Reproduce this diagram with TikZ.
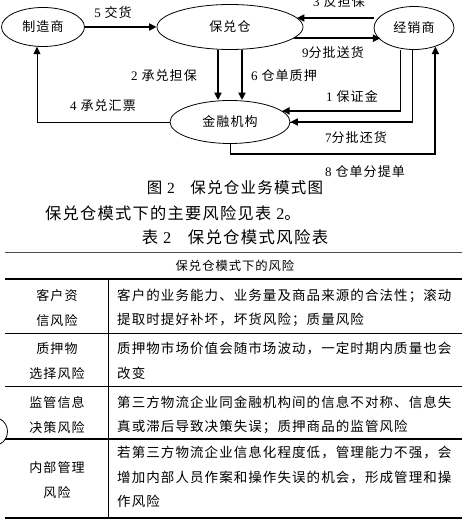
\documentclass[tikz,border=0pt]{standalone}
\usepackage{fontspec}
\setmainfont{Noto Sans CJK SC}[LetterSpace=8]
\newfontfamily\num{Liberation Serif}
\usetikzlibrary{arrows.meta,positioning,shapes.geometric}
\tikzset{
  party/.style={draw,ellipse,line width=0.8pt,inner sep=0pt,
    font=\fontsize{13}{15}\selectfont},
  flow/.style={-{Triangle[length=7.5pt,width=7pt]},line width=2.2pt},
  thinflow/.style={-{Triangle[length=7.5pt,width=7pt]},line width=0.8pt},
  link/.style={line width=0.8pt},
  flowlabel/.style={font=\fontsize{13}{15}\selectfont,inner sep=0pt},
  rule/.style={line width=0.8pt},
  boldrule/.style={line width=1.6pt},
  cell/.style={font=\fontsize{13.5}{24.5}\selectfont,inner sep=0pt,align=left},
  headcell/.style={font=\fontsize{13}{24.5}\selectfont,inner sep=0pt,align=center}
}

\begin{document}
\begin{tikzpicture}[x=1pt,y=-1pt]
  \useasboundingbox (0,0) rectangle (469,526);
  % parties
  \node[party,minimum width=83pt,minimum height=39pt] (zzs) at (43,27) {制造商};
  \node[party,minimum width=146pt,minimum height=45pt] (bdc) at (230,27) {保兑仓};
  \node[party,minimum width=80pt,minimum height=43pt] (jxs) at (414,28) {经销商};
  \node[party,minimum width=120pt,minimum height=43pt] (jrjg) at (230,122) {金融机构};

  % flows
  \draw[flow] (zzs.east) -- (bdc.west);
  \draw[flow] ([yshift=10pt]jxs.west) coordinate (s3) -- (s3 -| bdc.8);
  \draw[flow] (bdc.-10) coordinate (s9) -- (s9 -| jxs.200);
  \draw[flow] ([xshift=-12pt]bdc.south) -- ([xshift=-12pt]jrjg.north);
  \draw[flow] ([xshift=12pt]bdc.south) -- ([xshift=12pt]jrjg.north);
  \draw[link] ([xshift=-14pt]jxs.south) |- coordinate[pos=0.5] (c1) (jrjg.12);
  \draw[flow] (c1) -- (jrjg.12);
  \draw[link] ([xshift=-2pt]jxs.south) |- coordinate[pos=0.5] (c7) (jrjg.east);
  \draw[flow] (c7) -- (jrjg.east);
  \draw[link] (jrjg.south) -- ++(0,10) coordinate (c8);
  \draw[flow] (c8) -| (jxs.-41);
  \draw[thinflow] (jrjg.west) -| (zzs.253);

  % flow labels
  \node[flowlabel] (l5) at (113,13) {{\num 5} 交货};
  \node[flowlabel] (l3) at (339,2) {{\num 3} 反担保};
  \node[flowlabel] (l9) at (333,53) {{\num 9}分批送货};
  \node[flowlabel] (l2) at (164,76) {{\num 2} 承兑担保};
  \node[flowlabel] (l6) at (284,76) {{\num 6} 仓单质押};
  \node[flowlabel] (l1) at (352,97) {{\num 1} 保证金};
  \node[flowlabel] (l4) at (103,106) {{\num 4} 承兑汇票};
  \node[flowlabel] (l7) at (356,138) {{\num 7}分批还货};
  \node[flowlabel] (l8) at (365,172) {{\num 8} 仓单分提单};

  % captions
  \node[font=\fontsize{15.5}{17}\selectfont,inner sep=0pt] (figcap) at (235,188)
    {图 {\num 2}\quad 保兑仓业务模式图};
  \node[font=\fontsize{16.2}{18}\selectfont,inner sep=0pt,anchor=west] (body) at (45,213)
    {保兑仓模式下的主要风险见表 {\num 2}。};
  \node[font=\fontsize{16.4}{18}\selectfont,inner sep=0pt] (tabcap) at (235,237)
    {表 {\num 2}\quad 保兑仓模式风险表};

  % table
  \draw[rule,draw=black!70] (5,252) -- (462,252);
  \node[headcell,font=\fontsize{12.3}{14}\selectfont] (head) at (235,266) {保兑仓模式下的风险};
  \draw[boldrule] (5,279) -- (462,279);
  \draw[rule] (5,333) -- (462,333);
  \draw[rule] (5,386) -- (462,386);
  \draw[boldrule] (5,439) -- (462,439);
  \draw[boldrule] (5,518) -- (462,518);
  \draw[rule] (108,279) -- (108,518);

  \node[headcell] (k1) at (57,308) {客户资\\信风险};
  \node[cell,anchor=west] (d1) at (117,308)
    {客户的业务能力、业务量及商品来源的合法性；滚动\\提取时提好补坏，坏货风险；质量风险};
  \node[headcell] (k2) at (57,361) {质押物\\选择风险};
  \node[cell,anchor=west] (d2) at (117,361)
    {质押物市场价值会随市场波动，一定时期内质量也会\\改变};
  \node[headcell] (k3) at (57,415) {监管信息\\决策风险};
  \node[cell,anchor=west] (d3) at (117,415)
    {第三方物流企业同金融机构间的信息不对称、信息失\\真或滞后导致决策失误；质押商品的监管风险};
  \node[headcell] (k4) at (57,480) {内部管理\\风险};
  \node[cell,anchor=west] (d4) at (117,477)
    {若第三方物流企业信息化程度低，管理能力不强，会\\增加内部人员作案和操作失误的机会，形成管理和操\\作风险};

  % margin mark
  \draw[link] (0,419) .. controls (10,424) and (10,439) .. (0,444);
\end{tikzpicture}
\end{document}
